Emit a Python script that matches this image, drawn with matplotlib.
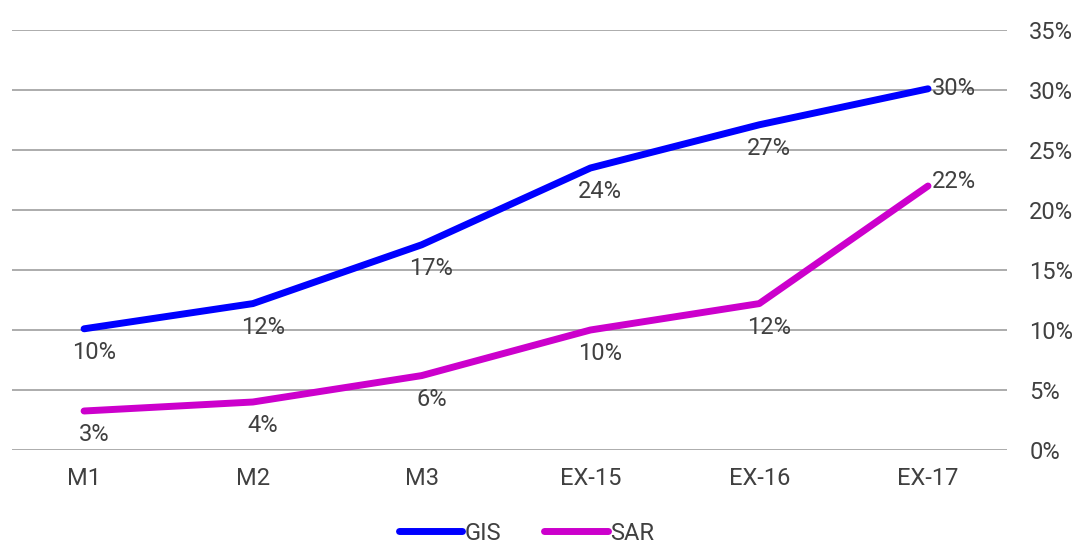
import matplotlib.pyplot as plt

categories = ["M1", "M2", "M3", "EX-15", "EX-16", "EX-17"]
gis = [10.1, 12.2, 17.1, 23.5, 27.1, 30.1]
sar = [3.25, 4.0, 6.2, 10.0, 12.2, 22.0]
gis_labels = ["10%", "12%", "17%", "24%", "27%", "30%"]
sar_labels = ["3%", "4%", "6%", "10%", "12%", "22%"]
y_ticks = [0, 5, 10, 15, 20, 25, 30, 35]

plt.rcParams['font.family'] = ['Roboto', 'DejaVu Sans']
txt = "#404040"
fs = 17

fig = plt.figure(figsize=(10.83, 5.44), dpi=100)
ax = fig.add_axes([12 / 1083, 94 / 544, 995 / 1083, 420 / 544])

x = list(range(len(categories)))
l1, = ax.plot(x, gis, color="#0000ff", lw=5, solid_capstyle="round", label="GIS", zorder=3)
l2, = ax.plot(x, sar, color="#cc00cc", lw=5, solid_capstyle="round", label="SAR", zorder=3)

for i in x:
    if i == len(x) - 1:
        ax.annotate(gis_labels[i], (i, gis[i]), xytext=(3, 0), textcoords="offset points",
                    ha="left", va="center", fontsize=fs, color=txt)
        ax.annotate(sar_labels[i], (i, sar[i]), xytext=(3, 3), textcoords="offset points",
                    ha="left", va="center", fontsize=fs, color=txt)
    else:
        ax.annotate(gis_labels[i], (i, gis[i]), xytext=(7, -17), textcoords="offset points",
                    ha="center", va="center", fontsize=fs, color=txt)
        ax.annotate(sar_labels[i], (i, sar[i]), xytext=(7, -17), textcoords="offset points",
                    ha="center", va="center", fontsize=fs, color=txt)

ax.set_xlim(-0.427, 5.468)
ax.set_ylim(0, 35)
ax.set_yticks(y_ticks)
ax.set_yticklabels([f"{v}%" for v in y_ticks])
ax.yaxis.tick_right()
ax.set_xticks(x)
ax.set_xticklabels(categories)
ax.tick_params(axis="both", length=0, labelsize=fs, colors=txt)
ax.tick_params(axis="y", pad=16)
ax.tick_params(axis="x", pad=12)
ax.grid(axis="y", color="#a6a6a6", lw=1.3)
ax.set_axisbelow(True)
for s in ax.spines.values():
    s.set_visible(False)

fig.legend(handles=[l1, l2], loc="lower center", bbox_to_anchor=(0.486, -0.04), ncol=2,
           frameon=False, fontsize=fs, labelcolor=txt, handlelength=2.7,
           handletextpad=0.1, columnspacing=1.8)

fig.savefig("out.png", dpi=100)
